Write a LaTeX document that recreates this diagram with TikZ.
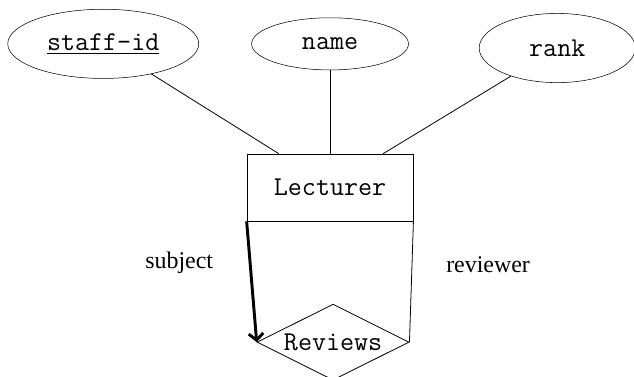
\documentclass[tikz,border=0pt]{standalone}
\usepackage{fontspec}
\setmainfont{Liberation Serif}
\usetikzlibrary{shapes.geometric, arrows.meta}

\begin{document}
\begin{tikzpicture}[
  every node/.style={font=\fontsize{18}{22}\selectfont},
  attrib/.style={draw, ellipse, inner sep=0pt, font=\fontsize{20.5}{24}\selectfont\ttfamily},
  entity/.style={draw, rectangle, minimum width=4.39cm, minimum height=1.77cm, font=\fontsize{20.5}{24}\selectfont\ttfamily},
  relship/.style={draw, diamond, aspect=2, inner sep=0pt, minimum width=4.02cm, minimum height=2.01cm, font=\fontsize{20.5}{24}\selectfont\ttfamily},
  thin line/.style={line width=0.6pt},
  role arrow/.style={line width=2.2pt, -{Straight Barb[length=5pt, width=11pt]}}
]

\useasboundingbox (0,0) rectangle (16.77,9.95);

\node[attrib, minimum width=5.05cm, minimum height=1.83cm] (sid) at (2.73,8.79) {\underline{staff-id}};
\node[attrib, minimum width=4.15cm, minimum height=1.38cm] (name) at (8.73,8.79) {name};
\node[attrib, minimum width=4.13cm, minimum height=1.83cm] (rank) at (14.74,8.68) {rank};

\node[entity, thin line] (lect) at (8.73,4.99) {Lecturer};
\node[relship, thin line] (rev) at (8.81,0.90) {Reviews};

\draw[thin line] (sid) -- ([xshift=0.85cm]lect.north west);
\draw[thin line] (name) -- (lect.north);
\draw[thin line] (rank) -- ([xshift=-0.8cm]lect.north east);

\draw[role arrow] (lect.south west) -- (rev.west);
\draw[thin line] (lect.south east) -- (rev.east);

\node (subj) at (4.74,2.99) {subject};
\node (revr) at (12.91,2.94) {reviewer};

\end{tikzpicture}
\end{document}
